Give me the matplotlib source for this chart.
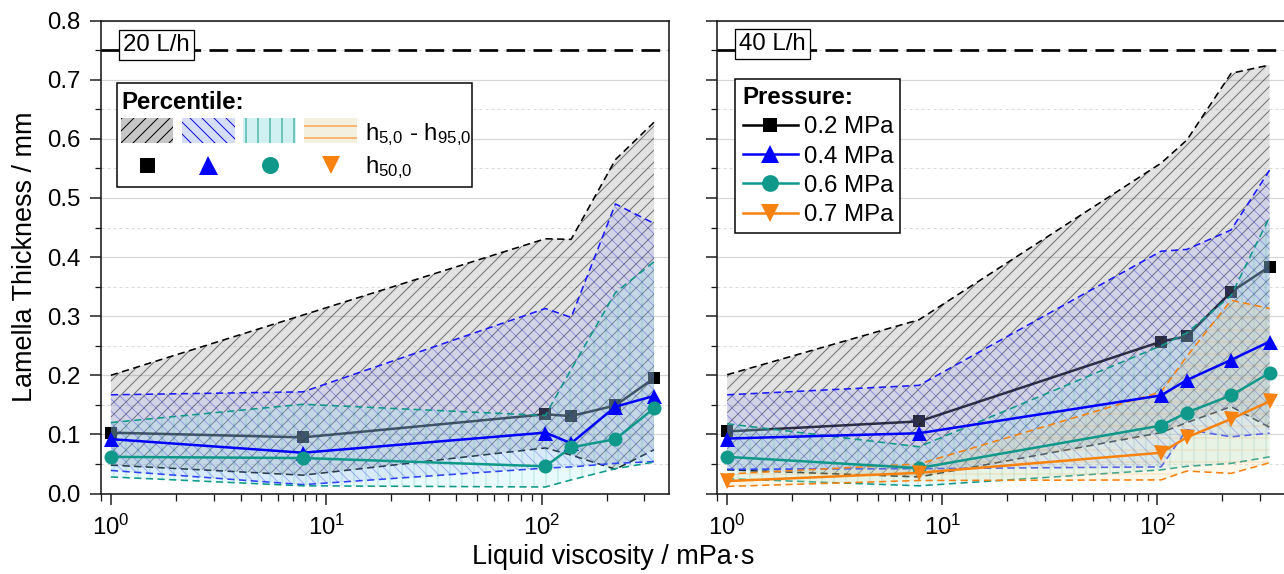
import numpy as np
import matplotlib
matplotlib.use('Agg')
import matplotlib.pyplot as plt
from matplotlib.patches import Rectangle
from matplotlib.lines import Line2D
from matplotlib.ticker import MultipleLocator, NullFormatter, FormatStrFormatter

# liquid viscosity / mPa s
visc = [1, 7.8, 104, 137, 220, 332]
pressures = ['0.2 MPa', '0.4 MPa', '0.6 MPa', '0.7 MPa']
max_thickness = 0.75

# 20 L/h : median (h50) and 5 / 95 percentile per pressure
h50_20 = [[0.103, 0.095, 0.134, 0.131, 0.149, 0.195],
          [0.092, 0.069, 0.103, 0.085, 0.147, 0.165],
          [0.062, 0.060, 0.046, 0.078, 0.092, 0.144]]
h5_20 = [[0.048, 0.031, 0.077, 0.065, 0.041, 0.074],
         [0.039, 0.015, 0.043, 0.045, 0.051, 0.054],
         [0.028, 0.013, 0.011, 0.023, 0.042, 0.053]]
h95_20 = [[0.200, 0.302, 0.431, 0.430, 0.565, 0.628],
          [0.167, 0.172, 0.313, 0.298, 0.490, 0.457],
          [0.120, 0.151, 0.132, 0.210, 0.340, 0.392]]

# 40 L/h
h50_40 = [[0.105, 0.122, 0.257, 0.266, 0.341, 0.384],
          [0.093, 0.102, 0.166, 0.192, 0.226, 0.257],
          [0.062, 0.043, 0.115, 0.137, 0.166, 0.204],
          [0.021, 0.035, 0.069, 0.095, 0.126, 0.156]]
h5_40 = [[0.040, 0.028, 0.103, 0.120, 0.147, 0.112],
         [0.041, 0.042, 0.045, 0.108, 0.096, 0.102],
         [0.025, 0.013, 0.040, 0.046, 0.051, 0.062],
         [0.012, 0.022, 0.023, 0.038, 0.034, 0.052]]
h95_40 = [[0.201, 0.294, 0.559, 0.598, 0.711, 0.725],
          [0.167, 0.183, 0.410, 0.413, 0.446, 0.547],
          [0.118, 0.079, 0.250, 0.272, 0.335, 0.468],
          [0.033, 0.050, 0.172, 0.232, 0.327, 0.313]]

# styles
line_colors = ['black', '#0000ff', '#10998a', '#f7820f']
line_z = [2, 4, 4, 4]      # the 0.2 MPa curve sits under the bands
markers = ['s', '^', 'o', 'v']
marker_sizes = [12, 15, 14, 15]
fill_faces = [(0.55, 0.55, 0.55, 0.25), (0.45, 0.5, 1.0, 0.14),
              (0.55, 0.9, 0.93, 0.2), (0.92, 0.86, 0.62, 0.22)]
hatch_colors = [(0, 0, 0, 0.5), (0.1, 0.1, 0.85, 0.35),
                (0.0, 0.6, 0.55, 0.22), (1.0, 0.55, 0.1, 0.22)]
legend_faces = ['#c6c6c6', '#d6ddf6', '#d0f0f2', '#f3f0e0']
legend_hatch = ['black', '#1010e0', '#10998a', '#f7820f']
hatches = ['//', '\\\\', '|', '-']
edge_colors = ['black', '#1a1aff', '#10998a', '#f7820f']

W, H = 1284, 574
DPI = 72
plt.rcParams['font.family'] = 'Liberation Sans'
plt.rcParams['mathtext.fontset'] = 'custom'
plt.rcParams['mathtext.rm'] = 'Liberation Sans'
plt.rcParams['mathtext.it'] = 'Liberation Sans:italic'
plt.rcParams['mathtext.bf'] = 'Liberation Sans:bold'
plt.rcParams['hatch.linewidth'] = 1.0


def fx(x):
    return x / W


def fy(y):
    return 1 - y / H


def px_box(x0, x1, y0, y1):
    return [x0 / W, 1 - y1 / H, (x1 - x0) / W, (y1 - y0) / H]


fig = plt.figure(figsize=(W / DPI, H / DPI), dpi=DPI)
ax1 = fig.add_axes(px_box(101, 669, 20.7, 493.5))
ax2 = fig.add_axes(px_box(717.3, 1284.6, 20.7, 493.5), sharey=ax1)


def draw_panel(ax, h50, lo, hi):
    for i in range(len(h50)):
        ax.plot(visc, h50[i], color=line_colors[i], marker=markers[i],
                ms=marker_sizes[i], mew=0, lw=2.5, zorder=line_z[i], label=pressures[i])
    for i in range(len(lo)):
        ax.fill_between(visc, lo[i], hi[i], facecolor=fill_faces[i],
                        edgecolor=hatch_colors[i], hatch=hatches[i],
                        linewidth=0, zorder=3)
        ax.plot(visc, hi[i], color=edge_colors[i], lw=1.6, ls=(0, (4.5, 2.8)), zorder=3)
        ax.plot(visc, lo[i], color=edge_colors[i], lw=1.6, ls=(0, (4.5, 2.8)), zorder=3)
    ax.axhline(max_thickness, color='black', lw=2.7, ls=(0, (6.9, 3.1)), zorder=4)

    ax.set_xscale('log')
    ax.set_xlim(0.9, 390)
    ax.set_ylim(0, 0.8)
    ax.yaxis.set_major_locator(MultipleLocator(0.1))
    ax.yaxis.set_minor_locator(MultipleLocator(0.05))
    ax.xaxis.set_minor_formatter(NullFormatter())
    ax.yaxis.set_major_formatter(FormatStrFormatter('%.1f'))
    ax.set_axisbelow(True)
    ax.yaxis.grid(True, which='major', color='#d6d6d6', lw=1.2)
    ax.yaxis.grid(True, which='minor', color='#dadada', lw=1.0, ls=(0, (3, 3)))
    ax.tick_params(which='major', length=11, width=1.5, direction='out',
                   labelsize=24, pad=10, color='#1a1a1a')
    ax.tick_params(which='minor', length=6.5, width=1.3, direction='out', color='#1a1a1a')
    for s in ax.spines.values():
        s.set_color('#1a1a1a')
        s.set_linewidth(1.6)


draw_panel(ax1, h50_20, h5_20, h95_20)
draw_panel(ax2, h50_40, h5_40, h95_40)
ax2.tick_params(labelleft=False)

box = dict(boxstyle='square,pad=0.17', facecolor='white', edgecolor='black', lw=1.3)
ax1.text(0.0982, 0.9486, '20 L/h', transform=ax1.transAxes, ha='center', va='center',
         fontsize=24, bbox=box, zorder=6)
ax2.text(0.0978, 0.9507, '40 L/h', transform=ax2.transAxes, ha='center', va='center',
         fontsize=24, bbox=box, zorder=6)

# pressure legend (right panel)
leg = ax2.legend(loc='upper left', bbox_to_anchor=((735.3 - 717.3) / 567.3, (493.5 - 79) / 472.8),
                 borderaxespad=0, fancybox=False, edgecolor='black', framealpha=1,
                 title='Pressure:', title_fontproperties={'weight': 'bold', 'size': 24},
                 alignment='left', fontsize=24, handlelength=2.3, handletextpad=0.25,
                 labelspacing=0.3, borderpad=0.3, numpoints=1, markerscale=1.2)
leg.get_frame().set_linewidth(1.5)
leg.set_zorder(7)

# percentile legend (left panel), drawn by hand
frame = Rectangle((fx(117), fy(186.7)), (472 - 117) / W, (186.7 - 82.7) / H,
                  transform=fig.transFigure, facecolor='white', edgecolor='black', lw=1.5, zorder=5)
fig.add_artist(frame)
fig.text(fx(121), fy(109.3), 'Percentile:', fontsize=24, fontweight='bold',
         ha='left', va='baseline', zorder=6)
patch_x = [(121, 173.3), (182, 235), (242.7, 296), (304.3, 356.7)]
marker_x = [147, 208.3, 270, 331]
legend_ms = [15, 19, 17, 18]
for i in range(4):
    x0, x1 = patch_x[i]
    p = Rectangle((fx(x0), fy(143.3)), (x1 - x0) / W, 25 / H, transform=fig.transFigure,
                  facecolor=legend_faces[i], edgecolor=legend_hatch[i], hatch=hatches[i],
                  lw=0, zorder=6)
    fig.add_artist(p)
    m = Line2D([fx(marker_x[i])], [fy(165)], transform=fig.transFigure, ls='none',
               marker=markers[i], ms=legend_ms[i], mew=0, color=line_colors[i], zorder=6)
    fig.add_artist(m)
fig.text(fx(365), fy(140), r'h$_\mathrm{5{,}0}$ - h$_\mathrm{95{,}0}$', fontsize=24,
         ha='left', va='baseline', zorder=6)
fig.text(fx(365), fy(173), r'h$_\mathrm{50{,}0}$', fontsize=24, ha='left', va='baseline', zorder=6)

fig.text(fx(613), fy(556.7), 'Liquid viscosity / mPa·s', fontsize=27, ha='center', va='center')
fig.text(fx(25), fy(257), 'Lamella Thickness / mm', fontsize=27, rotation=90,
         ha='center', va='center')

fig.savefig('out.png', dpi=DPI)
